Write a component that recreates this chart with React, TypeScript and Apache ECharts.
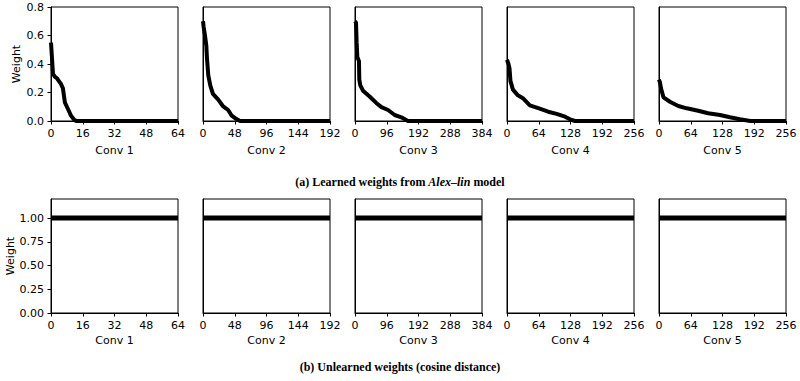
import React, { useEffect, useRef } from "react";
import * as echarts from "echarts";

const layerNames = ["Conv 1", "Conv 2", "Conv 3", "Conv 4", "Conv 5"];
const channelCounts = [64, 192, 384, 256, 256];
const tickIntervals = [16, 48, 96, 64, 64];

// Learned weights (sorted, descending) — [channel index, weight]
const conv1Learned: [number, number][] = [
  [0, 0.55], [1, 0.33], [2, 0.31], [3, 0.3], [4, 0.28], [5, 0.26], [6, 0.23],
  [7, 0.13], [8, 0.1], [9, 0.07], [10, 0.04], [11, 0.02], [12, 0.005], [13, 0], [64, 0],
];
const conv2Learned: [number, number][] = [
  [0, 0.7], [1, 0.66], [3, 0.6], [5, 0.53], [6, 0.44], [8, 0.32], [11, 0.25],
  [15, 0.19], [23, 0.15], [30, 0.105], [38, 0.077], [43, 0.04], [50, 0.015], [56, 0], [192, 0],
];
const conv3Learned: [number, number][] = [
  [0, 0.7], [3, 0.69], [5, 0.55], [7, 0.45], [12, 0.42], [13, 0.29], [16, 0.25],
  [25, 0.21], [45, 0.17], [65, 0.125], [80, 0.097], [100, 0.077], [120, 0.042],
  [140, 0.026], [160, 0], [384, 0],
];
const conv4Learned: [number, number][] = [
  [0, 0.43], [3, 0.4], [5, 0.37], [7, 0.28], [12, 0.22], [22, 0.18], [32, 0.16],
  [46, 0.11], [63, 0.09], [83, 0.065], [100, 0.05], [117, 0.03], [127, 0.012], [137, 0], [256, 0],
];
const conv5Learned: [number, number][] = [
  [0, 0.29], [2, 0.27], [4, 0.23], [9, 0.166], [22, 0.135], [39, 0.105], [56, 0.089],
  [79, 0.072], [99, 0.054], [123, 0.042], [143, 0.026], [163, 0.012], [184, 0], [256, 0],
];
const learnedSeries = [conv1Learned, conv2Learned, conv3Learned, conv4Learned, conv5Learned];

// Unlearned weights are all 1.0
const unlearnedValue = 1.0;

const topYTicks = [0, 0.2, 0.4, 0.6, 0.8];
const bottomYTicks = [0, 0.25, 0.5, 0.75, 1.0];

const FONT = "DejaVu Sans";

export default function App() {
  const ref = useRef<HTMLDivElement>(null);
  useEffect(() => {
    if (!ref.current) return;
    const chart = echarts.init(ref.current, undefined, { renderer: "svg" });
    const lefts = [51, 203, 355, 507, 659];
    const width = 127;
    const rows = [
      { top: 7, height: 114, nameGap: 24 },
      { top: 199, height: 114, nameGap: 22 },
    ];
    const grids: any[] = [];
    const xAxes: any[] = [];
    const yAxes: any[] = [];
    const series: any[] = [];
    rows.forEach((row, r) => {
      for (let i = 0; i < 5; i++) {
        const idx = r * 5 + i;
        grids.push({
          left: lefts[i], width, top: row.top, height: row.height,
          show: true, borderColor: "#000", borderWidth: 1, backgroundColor: "#fff",
        });
        xAxes.push({
          type: "value", gridIndex: idx, min: 0, max: channelCounts[i], interval: tickIntervals[i],
          name: layerNames[i], nameLocation: "middle", nameGap: row.nameGap,
          nameTextStyle: { fontFamily: FONT, fontSize: 11, color: "#000" },
          axisLine: { show: true, onZero: false, lineStyle: { color: "#000", width: 1 } },
          axisTick: { show: true, length: 3.5, inside: false, lineStyle: { color: "#000" } },
          axisLabel: { fontFamily: FONT, fontSize: 11, color: "#000", margin: 7, showMinLabel: true, showMaxLabel: true },
          splitLine: { show: false },
        });
        const ticks = r === 0 ? topYTicks : bottomYTicks;
        yAxes.push({
          type: "value", gridIndex: idx, min: 0, max: r === 0 ? 0.8 : 1.2,
          name: i === 0 ? "Weight" : "", nameLocation: "middle", nameGap: 29,
          nameTextStyle: { fontFamily: FONT, fontSize: 11, color: "#000" },
          axisLine: { show: true, lineStyle: { color: "#000", width: 1 } },
          axisTick: { show: i === 0, length: 3.5, customValues: ticks, lineStyle: { color: "#000" } },
          axisLabel: {
            show: i === 0, fontFamily: FONT, fontSize: 11, color: "#000", margin: 7,
            customValues: ticks,
            formatter: (v: number) => (r === 0 ? v.toFixed(1) : v.toFixed(2)),
          },
          splitLine: { show: false },
        });
        const data = r === 0
          ? learnedSeries[i]
          : [[0, unlearnedValue], [channelCounts[i], unlearnedValue]];
        series.push({
          type: "line", xAxisIndex: idx, yAxisIndex: idx, data,
          showSymbol: false, symbol: "none",
          lineStyle: { color: "#000", width: r === 0 ? 4 : 5 },
          z: 1,
        });
      }
    });
    chart.setOption({
      animation: false,
      backgroundColor: "#fff",
      grid: grids,
      xAxis: xAxes,
      yAxis: yAxes,
      series,
      graphic: [
        {
          type: "text", x: 400, y: 182,
          style: {
            text: "{b|(a) Learned weights from }{i|Alex–lin}{b| model}",
            align: "center", verticalAlign: "middle",
            rich: {
              b: { fontFamily: "Liberation Serif", fontWeight: "bold", fontSize: 12, fill: "#000" },
              i: { fontFamily: "Liberation Serif", fontWeight: "bold", fontStyle: "italic", fontSize: 12, fill: "#000" },
            },
          },
        },
        {
          type: "text", x: 400, y: 367,
          style: {
            text: "(b) Unlearned weights (cosine distance)",
            align: "center", verticalAlign: "middle",
            fontFamily: "Liberation Serif", fontWeight: "bold", fontSize: 12, fill: "#000",
          },
        },
      ],
    });
    return () => chart.dispose();
  }, []);
  return (
    <div
      ref={ref}
      style={{ position: "absolute", left: 0, top: 0, width: 800, height: 381, background: "#fff" }}
    />
  );
}
